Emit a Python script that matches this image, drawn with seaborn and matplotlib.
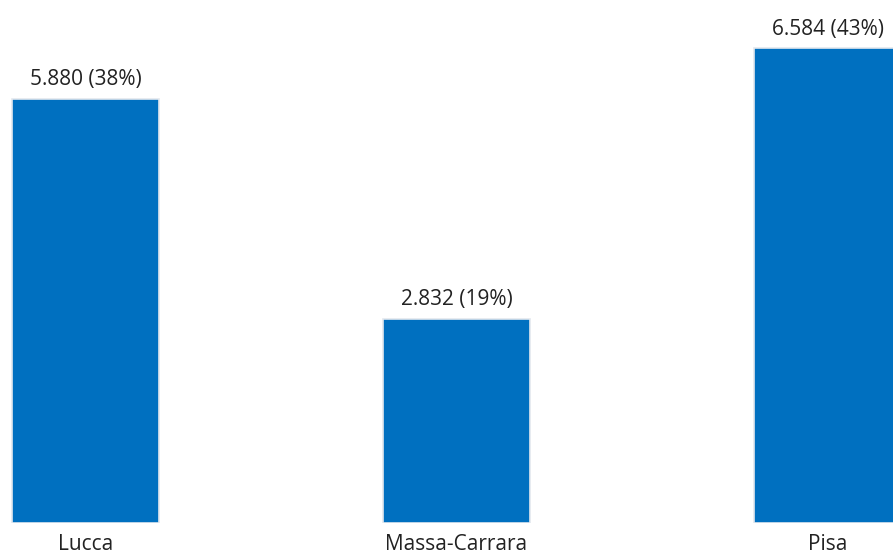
import matplotlib
matplotlib.use("Agg")
import matplotlib.pyplot as plt
import seaborn as sns
import pandas as pd

# Province totals
provinces = ["Lucca", "Massa-Carrara", "Pisa"]
totals = [5880, 2832, 6584]

df = pd.DataFrame({"provincia": provinces, "totale": totals})
grand_total = sum(totals)

sns.set_theme(style="white")
plt.rcParams["font.family"] = ["Open Sans", "DejaVu Sans"]

fig = plt.figure(figsize=(8.93, 5.6), dpi=100)
ax = fig.add_axes([0, (560 - 522.7) / 560, 1, 522.7 / 560])

sns.barplot(data=df, x="provincia", y="totale", color="#0070C0",
            width=0.396, edgecolor="#e3e8ee", linewidth=1.2,
            saturation=1, ax=ax)

ax.set_xlim(-0.2305, 2.1765)
ax.set_ylim(0, 7250)
ax.set_xlabel("")
ax.set_ylabel("")
ax.set_yticks([])
for s in ax.spines.values():
    s.set_visible(False)
ax.tick_params(axis="x", length=0, pad=8, labelsize=15, colors="#222222")

for i, v in enumerate(totals):
    pct = round(100 * v / grand_total)
    label = f"{v:,}".replace(",", ".") + f" ({pct}%)"
    ax.annotate(label, (i, v), xytext=(0, 6), textcoords="offset points",
                ha="center", va="bottom", fontsize=15, color="#222222")

fig.savefig("out.png", dpi=100)
